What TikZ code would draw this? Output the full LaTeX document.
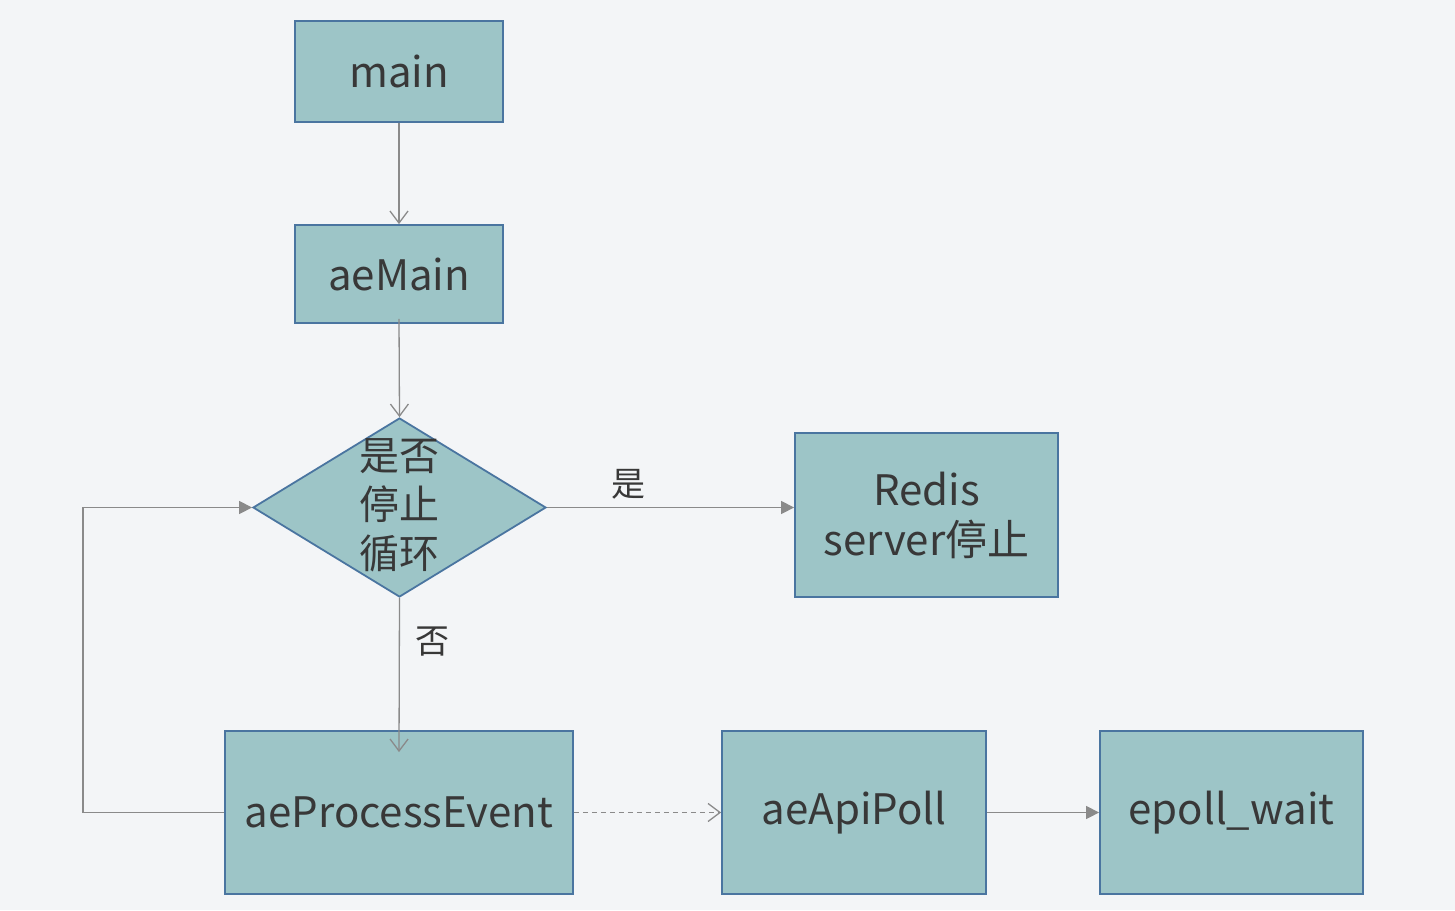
\documentclass[tikz,border=0pt]{standalone}
\usepackage{fontspec}
\setmainfont{Noto Sans CJK SC}
\usetikzlibrary{arrows.meta,shapes.geometric,calc}
\definecolor{bgc}{HTML}{F3F5F7}
\definecolor{boxfill}{HTML}{9DC5C7}
\definecolor{boxline}{HTML}{4A75A0}
\definecolor{txt}{HTML}{383838}
\definecolor{lnc}{HTML}{8A8A8A}
\tikzset{
  box/.style={draw=boxline, fill=boxfill, line width=1.8pt, text=txt, align=center,
    font=\fontsize{42}{50}\selectfont, inner sep=0pt},
  conn/.style={draw=lnc, line width=1.3pt},
  openarrow/.style={conn, -{Straight Barb[length=12pt,width=18pt,line width=1.3pt]}},
  filledarrow/.style={conn, -{Triangle[length=13pt,width=13pt]}},
  lbl/.style={text=txt, font=\fontsize{34}{40}\selectfont},
}
\begin{document}
\begin{tikzpicture}[x=1pt,y=-1pt]
\fill[bgc] (0,0) rectangle (1455,910);
\useasboundingbox (0,0) rectangle (1455,910);
\node[box, minimum width=208pt, minimum height=101pt] (main) at (399,71.5) {main};
\node[box, minimum width=208pt, minimum height=98pt] (aemain) at (399,274) {aeMain};
\node[box, diamond, minimum width=293pt, minimum height=179pt, aspect=1.64] (dia) at (399.5,507.5) {};
\node[text=txt, align=center, font=\fontsize{40}{49}\selectfont] (diat) at (399.5,505) {是否\\停止\\循环};
\node[box, minimum width=263pt, minimum height=164pt] (redis) at (926.5,515) {Redis\\server停止};
\node[box, minimum width=348pt, minimum height=163pt] (pe) at (399,812.5) {aeProcessEvent};
\node[box, minimum width=264pt, minimum height=163pt] (poll) at (854,812.5) {aeApiPoll};
\node[box, minimum width=263pt, minimum height=163pt] (ep) at (1231.5,812.5) {epoll\_wait};
\coordinate (lp) at (83,812.5);
\draw[openarrow] (main.south) -- (aemain.north);
\draw[openarrow] ($(aemain.south)+(0,-5)$) -- (dia.north);
\draw[filledarrow] (dia.east) -- (redis.west |- dia.east) node[lbl, pos=0.33, above=4pt] (yes) {是};
\draw[openarrow] (dia.south) -- ($(pe.north)+(0,22)$) node[lbl, pos=0.28, right=12pt] (no) {否};
\draw[filledarrow] (pe.west) -- (lp) |- (dia.west);
\draw[openarrow, dashed, dash pattern=on 5pt off 4pt] (pe.east) -- (poll.west);
\draw[filledarrow] (poll.east) -- (ep.west);
\end{tikzpicture}
\end{document}
